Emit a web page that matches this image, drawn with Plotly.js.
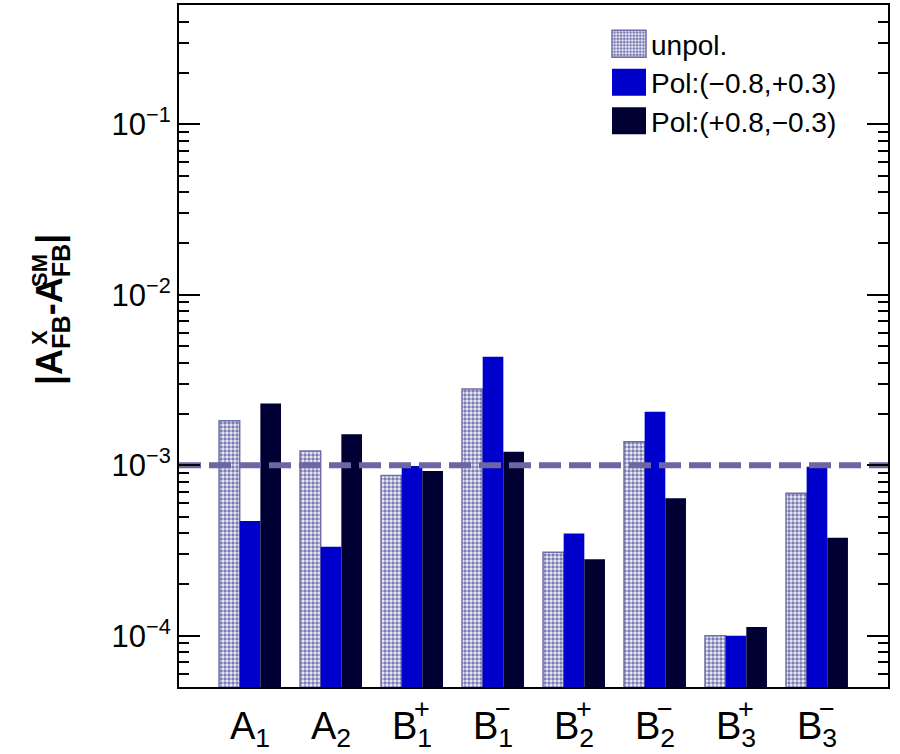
<!DOCTYPE html>
<html><head><meta charset="utf-8">
<script src="https://cdn.plot.ly/plotly-3.0.1.min.js"></script>
<style>body{margin:0;background:#fff}#chart{width:900px;height:754px}</style>
</head><body><div id="chart"></div>
<script>
// ---- data ----
const categories = ['A1','A2','B1+','B1-','B2+','B2-','B3+','B3-'];
const tickBase = ['A<sub>1</sub>','A<sub>2</sub>','B<sub>1</sub>','B<sub>1</sub>','B<sub>2</sub>','B<sub>2</sub>','B<sub>3</sub>','B<sub>3</sub>'];
const tickSup = ['','','+','\u2212','+','\u2212','+','\u2212'];
const unpol    = [1.82e-3, 1.21e-3, 8.7e-4, 2.80e-3, 3.09e-4, 1.37e-3, 1.0e-4, 6.84e-4];
const polMinus = [4.7e-4, 3.32e-4, 9.9e-4, 4.33e-3, 3.98e-4, 2.06e-3, 1.0e-4, 9.8e-4];
const polPlus  = [2.30e-3, 1.52e-3, 9.25e-4, 1.20e-3, 2.81e-4, 6.39e-4, 1.125e-4, 3.75e-4];
const seriesNames = ['unpol.', 'Pol:(\u22120.8,+0.3)', 'Pol:(+0.8,\u22120.3)'];
const refLine = 1e-3;
const refLineX = [0, 1];
const yTickVals = [1e-4, 1e-3, 1e-2, 1e-1];
const yTickText = ['10<sup>\u22124</sup>','10<sup>\u22123</sup>','10<sup>\u22122</sup>','10<sup>\u22121</sup>'];

// ---- layout helpers ----
const W = 900, H = 754, M = {l:179, r:12, t:5, b:67};
const PW = W - M.l - M.r, PH = H - M.t - M.b;
const px2x = x => (x - M.l) / PW;
const px2y = y => (H - M.b - y) / PH;

const FONT = 'Liberation Sans, Arial, sans-serif';
const NARROW = 'Liberation Sans Narrow, Arial Narrow, Liberation Sans, sans-serif';

const data = [
  {type:'bar', name: seriesNames[0], x: categories, y: unpol,
   marker:{color:'#f2f2f8', line:{color:'#6f6fa8', width:1.5},
           pattern:{shape:'.', fgcolor:'#7c7cb4', bgcolor:'#f2f2f8', size:4, solidity:0.6}}},
  {type:'bar', name: seriesNames[1], x: categories, y: polMinus,
   marker:{color:'#0000cc', line:{width:0}}},
  {type:'bar', name: seriesNames[2], x: categories, y: polPlus,
   marker:{color:'#000033', line:{width:0}}},
  {type:'scatter', mode:'lines', xaxis:'x2', yaxis:'y', x: refLineX, y: refLineX.map(() => refLine),
   showlegend:false, hoverinfo:'skip', cliponaxis:false,
   line:{color:'#6e66a2', width:6, dash:'22px,8px'}}
];

const annotations = [];
categories.forEach((c, i) => {
  if (tickSup[i]) annotations.push({xref:'x', x:c, yref:'paper', y:px2y(709), xshift:10,
    text: tickSup[i], showarrow:false, xanchor:'center', yanchor:'middle',
    font:{family:NARROW, size:27, color:'#000'}});
});
// y title pieces
const TF = {family:FONT, size:36, color:'#000', weight:'bold'};
annotations.push({xref:'paper', yref:'paper', x:px2x(52), y:px2y(310), textangle:-90,
  text:'|A<sub>FB</sub>-A<sub>FB</sub>|', showarrow:false, xanchor:'center', yanchor:'middle', font:TF});
annotations.push({xref:'paper', yref:'paper', x:px2x(39), y:px2y(338), textangle:-90,
  text:'X', showarrow:false, xanchor:'center', yanchor:'middle', font:{family:FONT, size:22, color:'#000', weight:'bold'}});
annotations.push({xref:'paper', yref:'paper', x:px2x(39), y:px2y(271), textangle:-90,
  text:'SM', showarrow:false, xanchor:'center', yanchor:'middle', font:{family:FONT, size:22, color:'#000', weight:'bold'}});

const layout = {
  width: W, height: H, margin: M,
  paper_bgcolor:'#fff', plot_bgcolor:'#fff',
  barmode:'group', bargap:0.235, bargroupgap:0,
  showlegend:true,
  legend:{x:px2x(609), y:px2y(19), xanchor:'left', yanchor:'top', bgcolor:'rgba(0,0,0,0)',
          font:{family:FONT, size:28, color:'#000'}, tracegroupgap:0},
  xaxis:{type:'category', range:[-0.877, 7.877], tickvals:categories, ticktext:tickBase,
         ticks:'', showline:true, linecolor:'#000', linewidth:2, mirror:true, ticklabelstandoff:4,
         showgrid:false, zeroline:false, tickfont:{family:NARROW, size:38, color:'#000'}},
  xaxis2:{overlaying:'x', range:[0, 1], visible:false, fixedrange:true},
  yaxis:{type:'log', range:[Math.log10(5e-5), Math.log10(0.5)], tickvals:yTickVals, ticktext:yTickText,
         ticks:'inside', ticklen:21, tickwidth:2, tickcolor:'#000',
         minor:{ticks:'inside', ticklen:10, tickwidth:2, tickcolor:'#000', dtick:'D1', showgrid:false},
         showline:true, linecolor:'#000', linewidth:2, mirror:'ticks',
         showgrid:false, zeroline:false, tickfont:{family:FONT, size:31, color:'#000'}},
  annotations
};

// enlarge legend swatches (ROOT-style big boxes), tighten row spacing
function styleLegend(gd) {
  gd.querySelectorAll('.legend .legendpoints path').forEach(p => {
    p.setAttribute('d', 'M17,13.5H-17V-13.5H17Z');
  });
  gd.querySelectorAll('.legend text.legendtext').forEach(t => {
    t.setAttribute('x', '42');
  });
  const items = Array.from(gd.querySelectorAll('.legend g.traces'));
  if (items.length) {
    const parse = el => {
      const m = /translate\(\s*([-\d.]+)[ ,]+([-\d.]+)\s*\)/.exec(el.getAttribute('transform') || '');
      return m ? [parseFloat(m[1]), parseFloat(m[2])] : [0, 0];
    };
    const [x0, y0] = parse(items[0]);
    items.forEach((el, i) => {
      const [x] = parse(el);
      el.setAttribute('transform', 'translate(' + x + ',' + (y0 + i * 38.5) + ')');
    });
  }
}
Plotly.newPlot('chart', data, layout, {staticPlot:true}).then(gd => {
  styleLegend(gd);
  setTimeout(() => styleLegend(gd), 50);
});
</script></body></html>
